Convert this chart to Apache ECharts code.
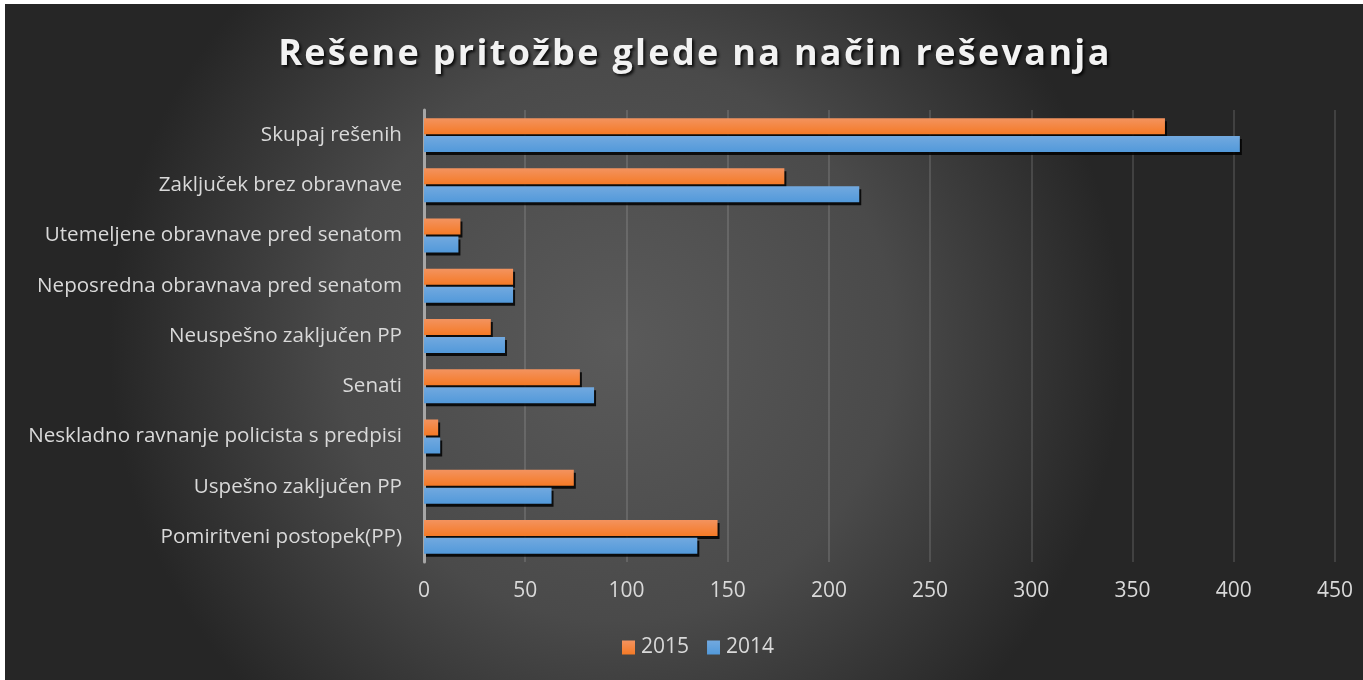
<!DOCTYPE html>
<html>
<head>
<meta charset="utf-8">
<script src="https://cdn.jsdelivr.net/npm/echarts@6/dist/echarts.min.js"></script>
<style>
html,body{margin:0;padding:0;background:#ffffff;}
#chart{position:absolute;left:5px;top:4px;width:1358px;height:676px;}
</style>
</head>
<body>
<div id="chart"></div>
<script>
const titleText = 'Rešene pritožbe glede na način reševanja';
const categories = [
  'Pomiritveni postopek(PP)',
  'Uspešno zaključen PP',
  'Neskladno ravnanje policista s predpisi',
  'Senati',
  'Neuspešno zaključen PP',
  'Neposredna obravnava pred senatom',
  'Utemeljene obravnave pred senatom',
  'Zaključek brez obravnave',
  'Skupaj rešenih'
];
const values2015 = [145, 74, 7, 77, 33, 44, 18, 178, 366];
const values2014 = [135, 63, 8, 84, 40, 44, 17, 215, 403];
const axisMin = 0, axisMax = 450, axisStep = 50;

const chart = echarts.init(document.getElementById('chart'));
const barShadow = {shadowColor:'rgba(0,0,0,0.85)', shadowOffsetX:2, shadowOffsetY:3, shadowBlur:0};
const orange = new echarts.graphic.LinearGradient(0,0,0,1,[{offset:0,color:'#F3935F'},{offset:1,color:'#F57A26'}]);
const blue = new echarts.graphic.LinearGradient(0,0,0,1,[{offset:0,color:'#72A9DF'},{offset:1,color:'#5299DA'}]);
const spacedTitle = titleText.split('').map(c => '{s|' + c + '}').join('');
chart.setOption({
  backgroundColor: new echarts.graphic.RadialGradient(0.45,0.5,0.75,[{offset:0,color:'#5a5a5a'},{offset:0.55,color:'#4a4a4a'},{offset:1,color:'#262626'}]),
  title: {
    text: spacedTitle,
    left: 267,
    top: 28,
    textStyle: {
      rich: {
        s: {
          color:'#f2f2f2', fontFamily:'Open Sans', fontWeight:'bold', fontSize:36,
          padding:[0,1.15,0,1.15],
          textShadowColor:'rgba(0,0,0,0.85)', textShadowOffsetX:2, textShadowOffsetY:2, textShadowBlur:3
        }
      }
    }
  },
  legend: {
    data:['2015','2014'],
    bottom: 17,
    left: 612,
    itemWidth: 13, itemHeight: 14, itemGap: 18,
    icon: 'rect',
    textStyle: {color:'#d9d9d9', fontFamily:'Open Sans', fontSize:21, padding:[0,0,0,1]}
  },
  grid: {left:419, right:28, top:106, bottom:118, containLabel:false},
  xAxis: {
    type:'value', min:axisMin, max:axisMax, interval:axisStep,
    axisLine:{show:false}, axisTick:{show:false},
    splitLine:{show:true, lineStyle:{color:'rgba(255,255,255,0.17)', width:1.5}},
    axisLabel:{color:'#d9d9d9', fontFamily:'Open Sans', fontSize:21, margin:19}
  },
  yAxis: {
    type:'category', data:categories,
    axisLine:{show:true, lineStyle:{color:'#a6a6a6', width:3}},
    axisTick:{show:false},
    axisLabel:{color:'#d9d9d9', fontFamily:'Open Sans', fontSize:20.6, margin:22}
  },
  series: [
    {name:'2015', type:'bar', data:values2015, barWidth:16, barGap:'12%',
     itemStyle:Object.assign({color:orange}, barShadow)},
    {name:'2014', type:'bar', data:values2014, barWidth:16, barGap:'12%',
     itemStyle:Object.assign({color:blue}, barShadow)}
  ]
});
</script>
</body>
</html>
